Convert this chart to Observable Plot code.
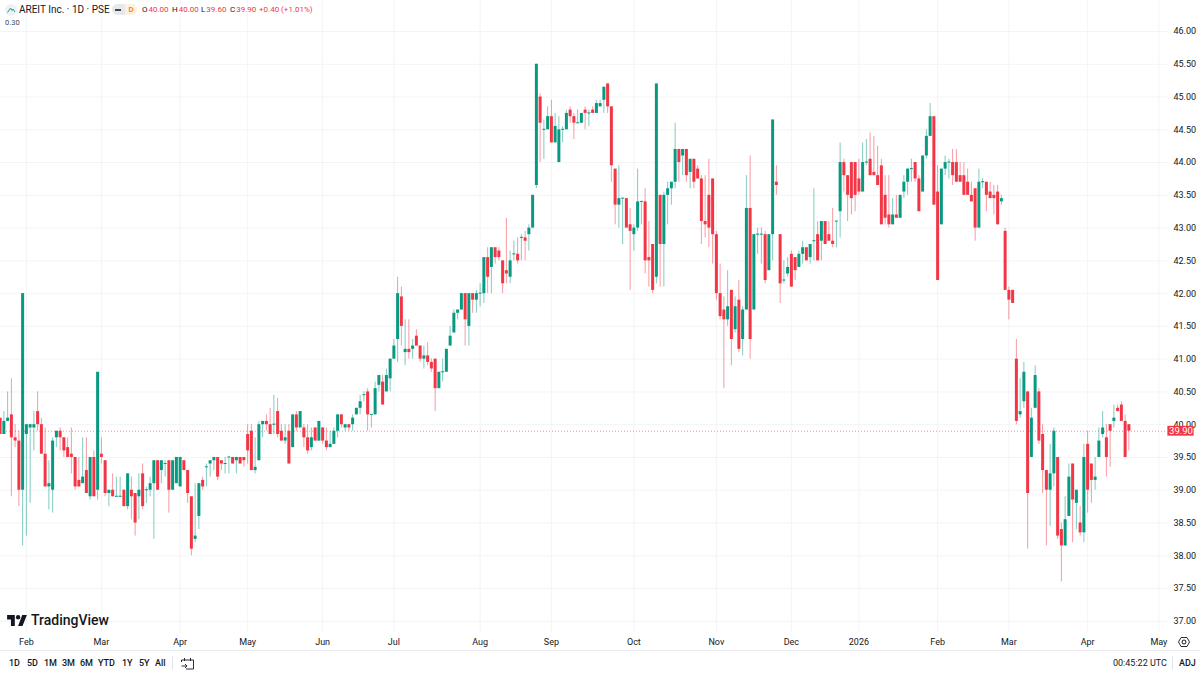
<!DOCTYPE html>
<html><head><meta charset="utf-8">
<script src="https://cdn.jsdelivr.net/npm/d3@7"></script>
<script src="https://cdn.jsdelivr.net/npm/@observablehq/plot@0.6"></script>
<style>
html,body{margin:0;padding:0;background:#fff;width:1200px;height:675px;overflow:hidden}
body{position:relative;font-family:Roboto,sans-serif;color:#131722}
#chart{position:absolute;left:0;top:0}
.t{position:absolute;white-space:nowrap;line-height:1}
.r{color:#f23645}
.o{font-size:8px;top:6px}
.o span{margin-left:1px}
.ft{font-size:9px;top:659px;color:#131722;font-weight:500}
</style></head><body>
<div id="chart"></div>
<script>
const opens=[40.1,39.85,40.05,40.15,39.8,39.75,39,39.85,39.95,39.95,
40.2,40,39.55,39.05,39,39.8,39.9,39.8,39.65,39.55,
39.5,39.15,39.1,39.3,38.9,39.5,39,39.55,39.45,38.95,
39,38.9,38.9,39,38.75,39,38.95,38.9,39.25,39,
39,39.1,39.45,39.3,39.4,39.45,39,39.1,39.05,39.45,
39.3,38.9,38.25,38.6,39.15,39.35,39.4,39.45,39.5,39.45,
39.4,39.5,39.5,39.45,39.5,39.5,39.85,39.9,39.3,39.45,
40,40.05,40,40,40.2,39.9,39.75,39.9,39.65,40.15,
39.95,39.95,39.8,39.65,39.95,39.75,39.95,39.75,39.65,39.7,
39.9,40.15,39.95,40,40,40.15,40.25,40.45,40.5,40.15,
40.15,40.6,40.65,40.5,40.7,41,41.3,41.95,41.1,41.15,
41.15,41.35,41.2,41,41.05,40.95,41,40.55,40.8,40.8,
41.2,41.4,41.7,41.75,42,41.5,42,41.9,42,42,
42.55,42.4,42.7,42.65,42.5,42.35,42.25,42.6,42.6,42.85,
42.85,42.9,43,43.65,45,44.5,44.5,44.7,44.3,44,
44.5,44.5,44.8,44.7,44.6,44.6,44.8,44.75,44.8,44.75,
44.85,44.95,45.2,44.85,43.9,43.35,43.45,43.45,43.05,42.9,
43,43.4,43.4,42.55,42.75,42.25,43.5,42.75,43.5,43.6,
43.7,44.2,44.1,44.2,43.85,44.05,43.9,43.75,43.1,43.5,
43.75,42.9,42,41.75,41.6,42.05,41.45,41.9,41.3,41.75,
43.3,41.75,42.9,42.9,42.9,42.35,42.9,43.7,42.9,42.2,
42.3,42.6,42.55,42.4,42.6,42.7,42.55,42.8,42.9,42.8,
43.1,42.9,42.8,43.1,43.25,44,43.8,44,44,43.75,
43.55,44,44.05,43.85,43.8,43.95,43.5,43.2,43.05,43.2,
43.15,43.55,43.7,43.9,44,43.75,43.55,44.1,44.4,44.7,
43.55,43.05,43.9,44,44,44,43.8,43.8,43.7,43.5,
43.6,43,43.7,43.7,43.55,43.5,43.55,43.4,42.95,42.05,
42.05,41,40.15,40.35,40.5,39.5,40.25,40.5,39.85,39.3,
39,39.25,39.5,38.4,38.15,38.6,39.4,38.8,38.5,38.35,
39.7,39.4,39.15,39.5,39.85,39.8,40,40.05,40.25,40.3,40.05,40];
const closes=[39.85,40.05,40.1,39.8,39.75,39,42,40,40,40,
40,39.55,39.05,39.1,39.75,39.9,39.8,39.6,39.5,39.5,
39.05,39.05,39.2,38.95,39.5,38.9,40.8,39.5,38.95,39,
38.9,38.9,38.9,38.75,39.25,38.9,38.5,39,38.75,39,
39.1,39.45,39,39.45,39.4,39,39.45,39.5,39.5,39.3,
38.95,38.1,38.3,39.1,39.05,39.35,39.45,39.5,39.2,39.4,
39.4,39.5,39.4,39.5,39.4,39.45,39.6,39.3,39.35,40,
40.05,40,39.85,40,39.85,39.75,39.8,39.4,40.15,39.95,
40.2,39.8,39.6,39.8,39.75,40.05,39.75,39.65,39.7,39.9,
40.15,40,40,39.95,40.1,40.25,40.35,40.45,40.15,40.15,
40.55,40.75,40.3,40.75,41,41.2,42,41.5,41.15,41.1,
41.2,41.2,41,41.05,40.95,40.85,40.55,40.8,40.8,41.15,
41.35,41.7,41.75,42,41.6,42,41.9,42,42,42.55,
42.25,42.7,42.55,42.55,42.15,42.3,42.5,42.6,42.5,42.85,
42.8,43,43.5,45.5,44.6,44.5,44.7,44.3,44.55,44.5,
44.5,44.75,44.7,44.6,44.6,44.75,44.75,44.75,44.75,44.9,
44.9,45.15,44.85,43.95,43.35,43.45,43.45,43,42.95,43,
43.4,43.4,42.5,42.5,42.05,45.2,42.75,43.5,43.6,43.7,
44.2,44,44.2,43.8,44.05,43.7,43.75,43.1,43.05,43,
42.9,42,41.65,41.6,41.8,41.3,41.8,41.15,41.75,43.3,
41.3,42.9,42.9,42.9,42.2,42.9,44.65,43.65,42.15,42.2,
42.4,42.1,42.35,42.6,42.7,42.5,42.75,42.8,42.5,43.1,
42.75,42.8,42.75,43.1,44,43.8,43.5,43.45,43.5,43.55,
44,44,43.8,43.8,43.65,43.05,43.15,43.05,43.2,43.15,
43.5,43.7,43.9,43.9,43.75,43.25,44.1,44.4,44.7,43.35,
42.2,43.9,44,44,43.8,43.7,43.7,43.5,43.5,43.4,
43,43.7,43.7,43.5,43.45,43.45,43.05,43.45,42.05,41.9,
41.85,40.05,40.2,40.8,38.95,40.1,40.75,39.75,39.3,39,
39.25,39.9,38.3,38.15,38.55,39.2,38.85,39,38.35,39.5,
39,39.15,39.2,39.75,39.95,39.5,39.9,40.1,40.2,40.05,39.5,39.9];
const highs=[40.1,40.2,40.5,40.7,40,39.9,42,40,40,40.2,
40.5,40.1,39.95,39.45,39.8,39.9,39.95,39.8,39.8,39.95,
39.5,39.5,39.8,39.8,39.5,39.6,40.8,39.8,39.45,39,
39.25,39.2,39.2,39,39.25,39.2,38.95,39.25,39.4,39.05,
39.2,39.45,39.45,39.45,39.45,39.45,39.45,39.5,39.5,39.45,
39.3,38.9,39.1,39.1,39.2,39.4,39.45,39.5,39.5,39.45,
39.5,39.5,39.5,39.5,39.5,39.5,40,40,39.8,40.05,
40.05,40.15,40.25,40.45,40.4,40,40,40,40.15,40.2,
40.2,40,40,39.95,39.95,40.05,39.95,39.95,39.9,39.95,
40.15,40.15,40,40,40.15,40.25,40.45,40.5,40.55,40.15,
40.65,40.75,40.75,40.85,41,41.3,42.25,42.1,41.6,41.6,
41.3,41.45,41.2,41.2,41.25,41,41,40.8,41,41.15,
41.5,41.75,41.75,42,42,42,42,42.05,42.15,42.55,
42.7,42.7,42.7,42.7,42.5,43.15,42.65,42.8,42.85,42.9,
42.95,43.05,43.5,45.5,45.05,44.65,44.85,44.95,44.75,44.7,
44.55,44.8,44.85,44.75,44.8,44.75,44.85,44.8,44.85,44.95,
44.95,45.15,45.2,44.85,43.9,43.95,43.45,43.45,43.3,43.05,
43.9,43.4,43.6,43.1,42.75,45.2,43.5,43.55,43.7,43.7,
44.6,44.2,44.2,44.2,44.05,44.05,43.95,43.8,43.8,44.05,
43.75,42.95,42.45,41.95,42.35,42.05,41.95,42.2,41.8,43.8,
44.1,42.9,43,43,42.95,42.9,44.65,43.95,42.9,42.5,
42.55,42.65,42.55,42.65,42.8,42.7,42.75,43.6,43.1,43.1,
43.1,43.1,43.3,43.1,44.3,44.05,43.8,44,44,44.05,
44.3,44.35,44.45,44.4,44.25,44.05,43.8,43.8,43.45,43.5,
43.5,43.8,43.9,44.05,44,43.8,44.1,44.5,44.9,44.7,
43.95,43.9,44.1,44.05,44.2,44.2,44,44,43.9,43.7,
43.6,43.9,43.75,43.7,43.7,43.65,43.65,43.5,43,42.1,
42.05,41.3,40.7,40.95,40.5,40.25,40.9,40.55,40,39.3,
39.7,39.95,39.5,38.5,38.9,39.4,39.4,39,38.75,39.7,
39.9,39.4,39.5,39.95,40.2,40,40,40.3,40.3,40.35,40.15,40];
const lows=[39.85,39.85,40.05,38.9,39.65,38.75,38.15,38.3,38.8,39.6,
39.9,39.55,39.05,38.7,38.65,39.65,39.6,39.5,39.5,39.25,
39,39.05,39.1,38.95,38.85,38.9,38.85,39.4,38.9,38.75,
38.9,38.9,38.9,38.75,38.7,38.55,38.3,38.55,38.7,38.8,
38.9,38.25,39,39.1,39.2,38.65,39,39.1,39.05,39.3,
38.8,38,38.2,38.4,39,39.05,39.2,39.3,39.15,39.3,
39.25,39.25,39.4,39.25,39.4,39.35,39.4,39.3,39.25,39.45,
39.8,39.9,39.85,39.85,39.8,39.75,39.7,39.4,39.65,39.9,
39.95,39.65,39.55,39.6,39.75,39.75,39.7,39.6,39.65,39.7,
39.8,39.95,39.9,39.9,39.9,40.15,40.15,40.35,39.9,39.95,
40.15,40.5,40.3,40.5,40.5,41,40.95,41.2,40.9,41,
41,41.2,40.95,40.85,40.9,40.8,40.2,40.55,40.65,40.8,
41.2,41.4,41.6,41.75,41.2,41.2,41.7,41.7,41.8,41.85,
42,42,42.45,42.5,42,42.15,42.15,42.5,42.45,42.5,
42.5,42.65,43,43.6,44,44.05,44.5,44.3,44.3,44,
44.3,44.5,44.6,44.35,44.6,44.6,44.5,44.55,44.75,44.75,
44.85,44.75,44.75,43.7,43.05,43,42.75,43,42.05,42.65,
42.95,43.05,42.3,42.1,42,42.15,42.1,42.1,43.05,43.35,
43.6,43.7,43.8,43.7,43.6,43.6,43.75,42.75,42.85,42.7,
42.45,41.9,41.6,40.55,41.5,40.9,41.4,41.1,41.05,41.75,
41,41.75,42.6,42.45,42.15,42.35,42.5,43.5,41.85,42.15,
42.25,42.1,42.2,42.4,42.45,42.5,42.45,42.5,42.5,42.5,
42.75,42.8,42.7,42.7,42.85,43.55,43.1,43.2,43.25,43.5,
43.55,43.95,43.8,43.8,43.65,43.05,43.05,43,43.05,43.15,
43.15,43.45,43.5,43.7,43.7,43.25,43.55,44.05,44.4,43.35,
42.2,43.05,43.8,43.75,43.65,43.7,43.7,43.5,43.5,43.4,
42.8,43,43.6,43.25,43.45,43.2,43.05,43.35,42.05,41.6,
41.85,40,40.1,40.25,38.1,39.5,40.25,39.7,38.95,38.15,
38.45,39.05,38.25,37.6,38.15,38.6,38.2,38.4,38.3,38.2,
38.65,38.8,39,39.5,39.8,39.2,39.35,39.95,40.2,40.05,39.5,39.6];
const monthBars=[7,27,48,66,86,105,128,147,169,191,211,229,250,269,290,309];
const monthNames=["Feb","Mar","Apr","May","Jun","Jul","Aug","Sep","Oct","Nov","Dec","2026","Feb","Mar","Apr","May"];
const priceTicks=[37,37.5,38,38.5,39,39.5,40,40.5,41,41.5,42,42.5,43,43.5,44,44.5,45,45.5,46];
const lastPrice=39.9;
const green="#089981", red="#f23645", gridColor="#f2f4f8";
const bars=d3.range(opens.length);
const col=i=>closes[i]>=opens[i]?green:red;
const bodyLo=i=>Math.min(opens[i],closes[i])-(opens[i]===closes[i]?0.008:0);
const bodyHi=i=>Math.max(opens[i],closes[i])+(opens[i]===closes[i]?0.008:0);
const monthText=new Map(monthBars.map((b,k)=>[b,monthNames[k]]));

const plot=Plot.plot({
  width:1200,height:675,
  marginTop:0,marginBottom:43,marginLeft:0,marginRight:33,
  style:{fontFamily:"Roboto,sans-serif",fontSize:"9px",color:"#131722",background:"transparent",overflow:"visible"},
  x:{type:"linear",domain:[0.1,311.3],axis:null},
  y:{type:"linear",domain:[36.829,46.473],axis:null},
  color:{type:"identity"},
  marks:[
    Plot.gridY(priceTicks,{stroke:gridColor,strokeOpacity:1}),
    Plot.gridX(monthBars,{stroke:gridColor,strokeOpacity:1}),
    Plot.axisY({anchor:"right",ticks:priceTicks,tickSize:0,tickPadding:6,tickFormat:d=>d.toFixed(2),label:null}),
    Plot.axisX({anchor:"bottom",ticks:monthBars,tickSize:0,tickPadding:6,tickFormat:d=>monthText.get(d),label:null}),
    Plot.ruleY([lastPrice],{stroke:red,strokeOpacity:.55,strokeDasharray:"1 2"}),
    Plot.ruleX(bars,{x:i=>i,y1:i=>lows[i],y2:i=>highs[i],stroke:col,strokeOpacity:.5,strokeWidth:1}),
    Plot.ruleX(bars,{x:i=>i,y1:bodyLo,y2:bodyHi,stroke:col,strokeWidth:3}),
    Plot.rect([lastPrice],{x1:()=>311.4,x2:()=>318.4,y1:d=>d-0.075,y2:d=>d+0.075,fill:red}),
    Plot.text([lastPrice],{x:()=>314.9,y:d=>d,text:d=>d.toFixed(2),fill:"#fff",fontSize:9.5})
  ]
});
document.getElementById("chart").appendChild(plot);
</script>
<svg style="position:absolute;left:5px;top:4px" width="12" height="12"><circle cx="6" cy="6" r="6" fill="#eef1f5"/><path d="M2.5 8.5 L5.5 4 L7 6.5 L8 5 L10 8" fill="none" stroke="#2a9d8f" stroke-width="1"/></svg>
<div class="t" style="left:19px;top:5px;font-size:10px">AREIT Inc. · 1D · PSE</div>
<div class="t" style="left:112px;top:4px;width:13px;height:11px;background:#e6e8ec;border-radius:6px 0 0 6px"></div>
<div class="t" style="left:115px;top:9px;width:6px;height:2px;background:#434651"></div>
<div class="t" style="left:125px;top:4px;width:12px;height:11px;background:#fdf1e0;border-radius:0 6px 6px 0;color:#f57c00;font-size:8px;text-align:center;line-height:11px;font-weight:500">D</div>
<div class="t o" style="left:142px">O<span class="r">40.00</span></div>
<div class="t o" style="left:172px">H<span class="r">40.00</span></div>
<div class="t o" style="left:201px">L<span class="r">39.60</span></div>
<div class="t o" style="left:230px">C<span class="r">39.90</span></div>
<div class="t o r" style="left:259px">+0.40 (+1.01%)</div>
<div class="t" style="left:5px;top:19px;font-size:7.5px;color:#434651">0.30</div>

<svg style="position:absolute;left:7px;top:615px" width="20" height="11" viewBox="0 0 36 20"><path d="M14 20H7V8H0V0h14v20zM28 20h-8l7.5-20H36l-8 20z" fill="#131722"/><circle cx="20" cy="4" r="4" fill="#131722"/></svg>
<div class="t" style="left:31px;top:613px;font-size:14px;font-weight:500">TradingView</div>

<svg style="position:absolute;left:1178px;top:636px" width="12" height="12" viewBox="0 0 12 12"><circle cx="6" cy="6" r="2" fill="none" stroke="#131722"/><path d="M3 1.5h6L11.5 6 9 10.5H3L.5 6z" fill="none" stroke="#131722" stroke-width=".9"/></svg>
<div class="t" style="left:0;top:650px;width:1200px;height:1px;background:#e8eaef"></div>
<div class="t ft" style="left:9px">1D</div>
<div class="t ft" style="left:27px">5D</div>
<div class="t ft" style="left:44px">1M</div>
<div class="t ft" style="left:62px">3M</div>
<div class="t ft" style="left:80px">6M</div>
<div class="t ft" style="left:98px">YTD</div>
<div class="t ft" style="left:122px">1Y</div>
<div class="t ft" style="left:139px">5Y</div>
<div class="t ft" style="left:155px">All</div>
<div class="t" style="left:172px;top:656px;width:1px;height:14px;background:#e0e3eb"></div>
<svg style="position:absolute;left:181px;top:657px" width="13" height="13" viewBox="0 0 13 13"><path d="M.5 3h12v9H5M.5 3v2M3.5 1v3M9.5 1v3M.5 9H6M4 7l2 2-2 2" fill="none" stroke="#131722" stroke-width=".9"/></svg>
<div class="t ft" style="left:1113px;font-weight:400">00:45:22 UTC</div>
<div class="t" style="left:1172px;top:656px;width:1px;height:14px;background:#e0e3eb"></div>
<div class="t ft" style="left:1179px">ADJ</div>
</body></html>
